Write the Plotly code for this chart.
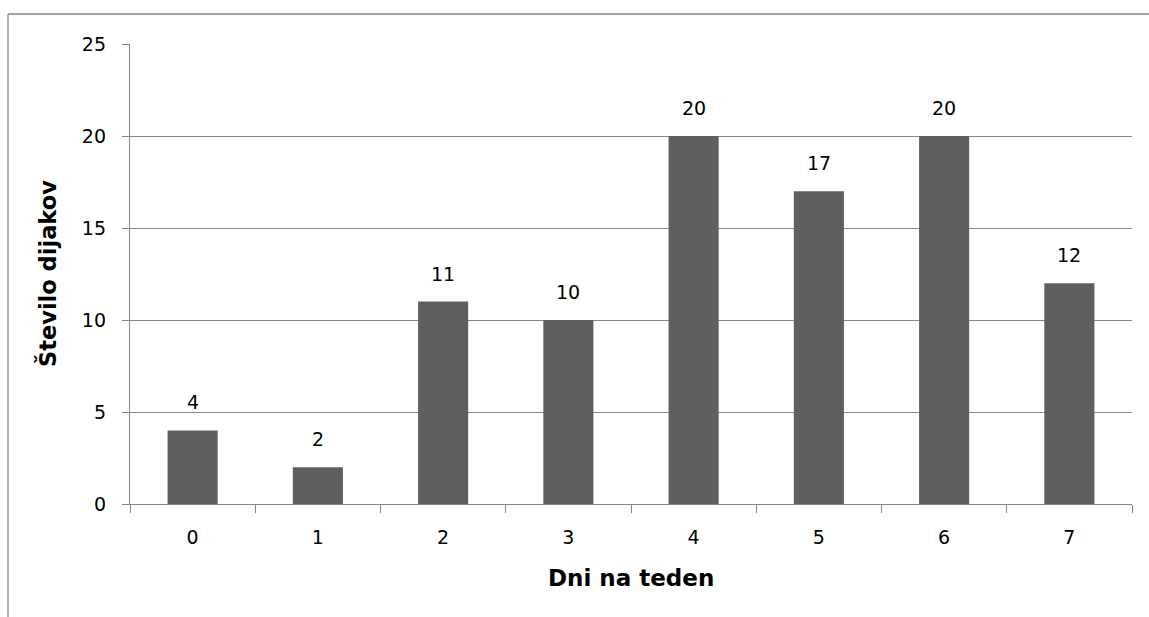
import plotly.graph_objects as go

# Number of students by days per week
days = ["0", "1", "2", "3", "4", "5", "6", "7"]
students = [4, 2, 11, 10, 20, 17, 20, 12]
y_ticks = [0, 5, 10, 15, 20, 25]

W, H = 1149, 617
L, R, T, B = 130, 17, 44, 113
pw, ph = W - L - R, H - T - B

FONT = "DejaVu Sans, Verdana, sans-serif"
GRID = "#868686"
BAR = "#5f5f5f"
TICK_SIZE = 19

fig = go.Figure()
fig.add_trace(go.Bar(
    x=days, y=students, marker=dict(color=BAR, line=dict(width=0)),
    width=0.4, hoverinfo="x+y",
))

# value labels above bars
for d, v in zip(days, students):
    fig.add_annotation(x=d, y=v, text=str(v), showarrow=False,
                       xref="x", yref="y", yanchor="middle", yshift=28,
                       font=dict(family=FONT, size=TICK_SIZE, color="#000"))

# axis titles
fig.add_annotation(xref="paper", yref="paper", x=0.5, y=(504 - 578) / ph,
                   text="<b>Dni na teden</b>", showarrow=False,
                   xanchor="center", yanchor="middle",
                   font=dict(family=FONT, size=23, color="#000"))
fig.add_annotation(xref="paper", yref="paper", x=(47 - L) / pw, y=0.5,
                   text="<b>Število dijakov</b>", showarrow=False, textangle=-90,
                   xanchor="center", yanchor="middle",
                   font=dict(family=FONT, size=22.5, color="#000"))

# outer chart frame (left and top edges)
fx = (8 - L) / pw
fy = 1 + (T - 14) / ph
fig.add_shape(type="line", xref="paper", yref="paper", x0=fx, x1=fx, y0=fy, y1=-(B + 5) / ph,
              line=dict(color=GRID, width=1.3))
fig.add_shape(type="line", xref="paper", yref="paper", x0=fx, x1=1 + (R + 5) / pw, y0=fy, y1=fy,
              line=dict(color=GRID, width=1.3))

fig.update_layout(
    width=W, height=H,
    margin=dict(l=L, r=R, t=T, b=B, pad=0),
    plot_bgcolor="white", paper_bgcolor="white",
    showlegend=False, bargap=0.6,
    font=dict(family=FONT, size=TICK_SIZE, color="#000"),
    xaxis=dict(
        type="category", range=[-0.5, 7.5],
        showline=True, linecolor=GRID, linewidth=1.3,
        ticks="outside", tickson="boundaries", ticklen=8, tickcolor=GRID, tickwidth=1.3,
        showgrid=False, tickfont=dict(family=FONT, size=TICK_SIZE, color="#000"),
        ticklabelstandoff=16,
    ),
    yaxis=dict(
        range=[0, 25], tickvals=y_ticks,
        showline=True, linecolor=GRID, linewidth=1.3,
        ticks="outside", ticklen=7, tickcolor=GRID, tickwidth=1.3,
        showgrid=True, gridcolor=GRID, gridwidth=1.3, zeroline=False,
        tickfont=dict(family=FONT, size=TICK_SIZE, color="#000"),
        ticklabelstandoff=12,
    ),
)

fig.write_html("out.html")
